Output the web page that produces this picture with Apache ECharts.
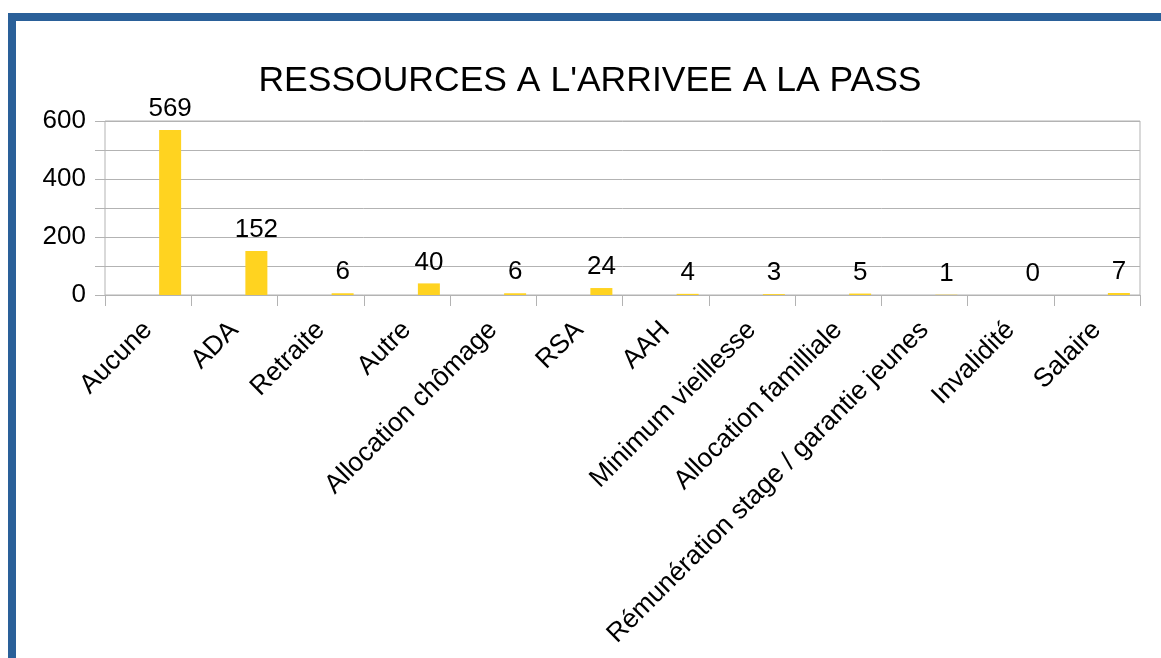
<!DOCTYPE html>
<html>
<head>
<meta charset="utf-8">
<script src="https://cdn.jsdelivr.net/npm/echarts@6/dist/echarts.min.js"></script>
<style>
	html, body {margin: 0; padding: 0; background: #fff;}
	#chart {width: 1161px; height: 658px;}
</style>
</head>
<body>
<div id="chart"></div>
<script>
//	chart data
var categories = ['Aucune', 'ADA', 'Retraite', 'Autre', 'Allocation chômage', 'RSA', 'AAH',
	'Minimum vieillesse', 'Allocation familliale', 'Rémunération stage / garantie jeunes', 'Invalidité', 'Salaire'];
var values = [569, 152, 6, 40, 6, 24, 4, 3, 5, 1, 0, 7];
var emptySeries = ['-', '-', '-', '-', '-', '-', '-', '-', '-', '-', '-', '-'];
var yTicks = [0, 200, 400, 600];

var font = 'Liberation Sans, Arial, sans-serif';
var gridColor = '#b3b3b3';

var myChart = echarts.init(document.getElementById('chart'));

var option = {
	animation: false,
	backgroundColor: '#fff',
	title: {
		text: "RESSOURCES A L'ARRIVEE A LA PASS",
		left: 585,
		textAlign: 'center',
		top: 58,
		textStyle: {
			fontFamily: font,
			fontSize: 35.5,
			fontWeight: 'normal',
			color: '#000'
		}
	},
	graphic: [
		{type: 'rect', shape: {x: 8, y: 13, width: 1153, height: 8}, style: {fill: '#2a6099'}},
		{type: 'rect', shape: {x: 8, y: 13, width: 8, height: 645}, style: {fill: '#2a6099'}}
	],
	grid: {
		left: 105,
		right: 21,
		top: 121,
		bottom: 363,
		show: true,
		borderColor: gridColor,
		borderWidth: 1
	},
	xAxis: {
		type: 'category',
		data: categories,
		axisLine: {lineStyle: {color: gridColor}},
		axisTick: {show: true, length: 11, alignWithLabel: false, lineStyle: {color: gridColor}},
		axisLabel: {
			rotate: 45,
			interval: 0,
			margin: 31,
			fontFamily: font,
			fontSize: 26.5,
			color: '#000'
		}
	},
	yAxis: {
		type: 'value',
		min: yTicks[0],
		max: yTicks[yTicks.length - 1],
		interval: 200,
		axisLine: {show: false},
		axisTick: {show: true, length: 10, lineStyle: {color: gridColor}},
		minorTick: {show: true, splitNumber: 2, length: 10, lineStyle: {color: gridColor}},
		splitLine: {show: true, lineStyle: {color: gridColor}},
		minorSplitLine: {show: true, lineStyle: {color: gridColor}},
		axisLabel: {
			margin: 19,
			fontFamily: font,
			fontSize: 26,
			color: '#000'
		}
	},
	series: [
		{
			type: 'bar',
			data: emptySeries,
			barWidth: 22,
			barGap: '100%'
		},
		{
			type: 'bar',
			data: values,
			barWidth: 22,
			barGap: '100%',
			itemStyle: {color: '#ffd320'},
			label: {
				show: true,
				position: 'top',
				distance: 8,
				fontFamily: font,
				fontSize: 26,
				color: '#000'
			}
		}
	]
};

myChart.setOption(option);
</script>
</body>
</html>
